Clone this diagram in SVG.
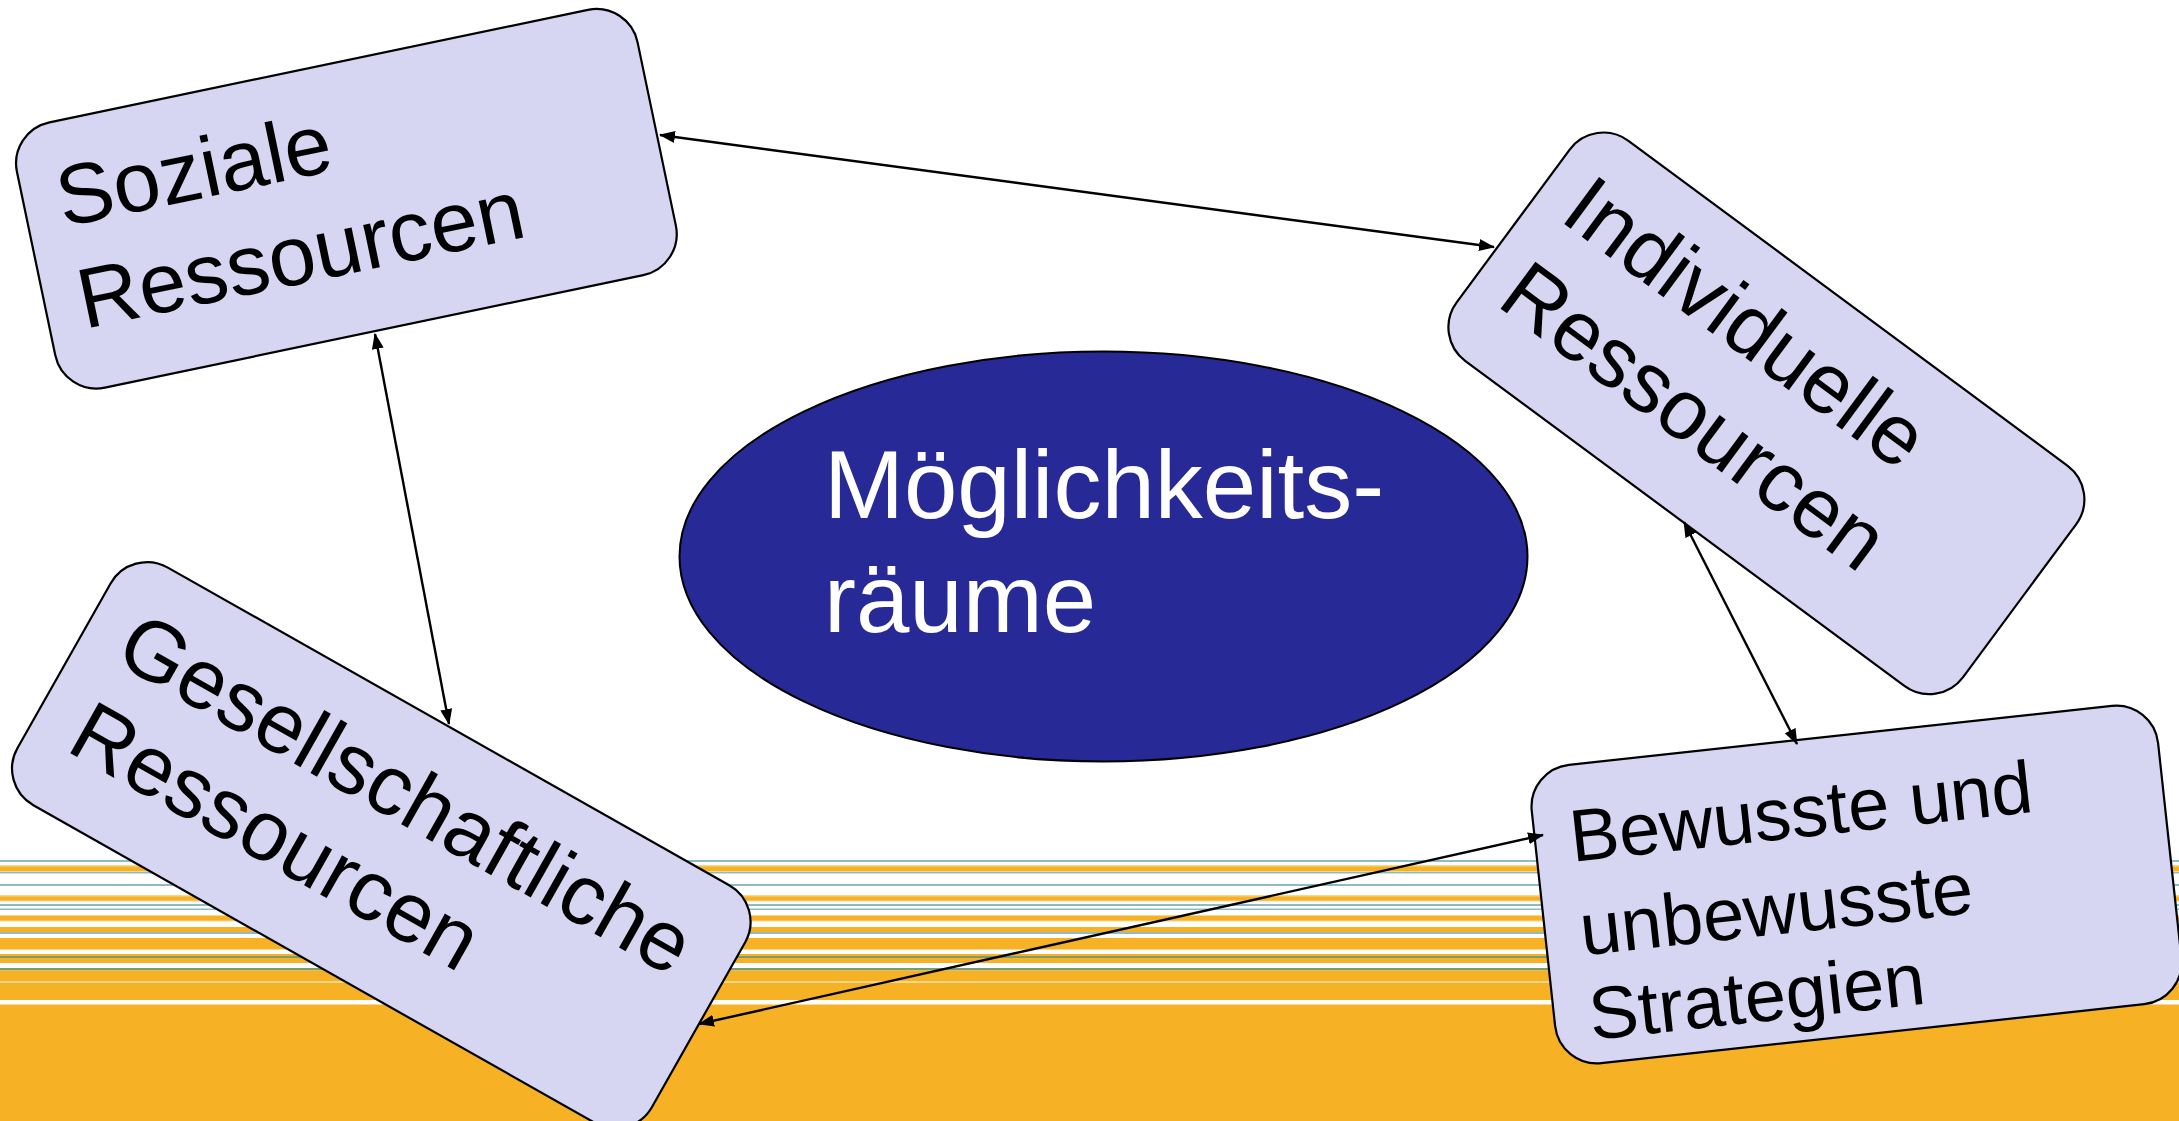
<svg xmlns="http://www.w3.org/2000/svg" width="2179" height="1121" viewBox="0 0 2179 1121">
  <defs>
    <marker id="ah" viewBox="0 0 16 12" refX="15" refY="6" markerWidth="16" markerHeight="12" markerUnits="userSpaceOnUse" orient="auto-start-reverse">
      <path d="M0,0 L16,6 L0,12 Z" fill="#000"/>
    </marker>
    <style>
      .box { fill: #D6D6F3; stroke: #000; stroke-width: 2.2; }
      .lbl { font-family: "Liberation Sans", Arial, sans-serif; fill: #000; }
      .conn { stroke: #000; stroke-width: 2.4; fill: none; marker-start: url(#ah); marker-end: url(#ah); }
      .or { fill: #F6B224; }
      .pl { fill: #FAD58C; }
      .tl { fill: #8FBCC4; }
      .gr { fill: #7E9B6A; }
    </style>
  </defs>

  <rect x="0" y="0" width="2179" height="1121" fill="#FFFFFF"/>

  <g id="background-stripes">
    <rect class="tl" x="0" y="860" width="2179" height="2"/>
    <rect class="pl" x="0" y="865" width="2179" height="7"/>
    <rect class="or" x="0" y="866.5" width="2179" height="4.5"/>
    <rect class="tl" x="0" y="872" width="2179" height="1.5"/>
    <rect class="tl" x="0" y="884" width="2179" height="2"/>
    <rect class="pl" x="0" y="895" width="2179" height="6.5"/>
    <rect class="or" x="0" y="896.5" width="2179" height="4"/>
    <rect class="tl" x="0" y="904" width="2179" height="2"/>
    <rect class="tl" x="0" y="908.5" width="2179" height="1.5"/>
    <rect class="pl" x="0" y="915" width="2179" height="6.5"/>
    <rect class="or" x="0" y="916" width="2179" height="4.5"/>
    <rect class="or" x="0" y="927" width="2179" height="5"/>
    <rect class="tl" x="0" y="932" width="2179" height="2"/>
    <rect class="or" x="0" y="938" width="2179" height="11.5"/>
    <rect class="or" x="0" y="954" width="2179" height="2"/>
    <rect class="gr" x="0" y="956" width="2179" height="2"/>
    <rect class="or" x="0" y="958" width="2179" height="5"/>
    <rect class="gr" x="0" y="968" width="2179" height="2.5"/>
    <rect class="or" x="0" y="970.5" width="2179" height="10.5"/>
    <rect class="pl" x="0" y="981" width="2179" height="2"/>
    <rect class="or" x="0" y="983" width="2179" height="17"/>
    <rect class="or" x="0" y="1004.5" width="2179" height="116.5"/>
  </g>

  <g id="node-moeglichkeitsraeume">
    <ellipse cx="1103.5" cy="556.5" rx="424" ry="205" fill="#262996" stroke="#000" stroke-width="2"/>
    <text class="lbl" x="824" y="518" font-size="96" style="fill:#FFFFFF">Möglichkeits-</text>
    <text class="lbl" x="824" y="632" font-size="96" style="fill:#FFFFFF">räume</text>
  </g>

  <g id="node-soziale" transform="translate(346.4,198.7) rotate(-11.8)">
    <rect class="box" x="-317" y="-135.5" width="634" height="271" rx="42"/>
    <text class="lbl" x="-283" y="-30" font-size="85">Soziale</text>
    <text class="lbl" x="-283" y="74" font-size="85">Ressourcen</text>
  </g>

  <g id="node-individuelle" transform="translate(1766.4,413.3) rotate(36.5)">
    <rect class="box" x="-315" y="-137" width="630" height="274" rx="42"/>
    <text class="lbl" x="-283" y="-32" font-size="85">Individuelle</text>
    <text class="lbl" x="-283" y="74" font-size="85">Ressourcen</text>
  </g>

  <g id="node-gesellschaftliche" transform="translate(381.3,845.2) rotate(29.5)">
    <rect class="box" x="-364.5" y="-136.5" width="729" height="273" rx="42"/>
    <text class="lbl" x="-325" y="-28" font-size="85">Gesellschaftliche</text>
    <text class="lbl" x="-323" y="73" font-size="85">Ressourcen</text>
  </g>

  <g id="node-strategien" transform="translate(1856.6,884.5) rotate(-6.2)">
    <rect class="box" x="-315" y="-150" width="630" height="300" rx="42"/>
    <text class="lbl" x="-280" y="-53" font-size="74">Bewusste und</text>
    <text class="lbl" x="-280" y="41" font-size="74">unbewusste</text>
    <text class="lbl" x="-280" y="126" font-size="74">Strategien</text>
  </g>

  <g id="connectors">
    <line class="conn" x1="660" y1="135" x2="1494" y2="247"/>
    <line class="conn" x1="375" y1="334" x2="449" y2="724"/>
    <line class="conn" x1="1684" y1="522" x2="1797" y2="744"/>
    <line class="conn" x1="699" y1="1024" x2="1543" y2="835"/>
  </g>
</svg>
